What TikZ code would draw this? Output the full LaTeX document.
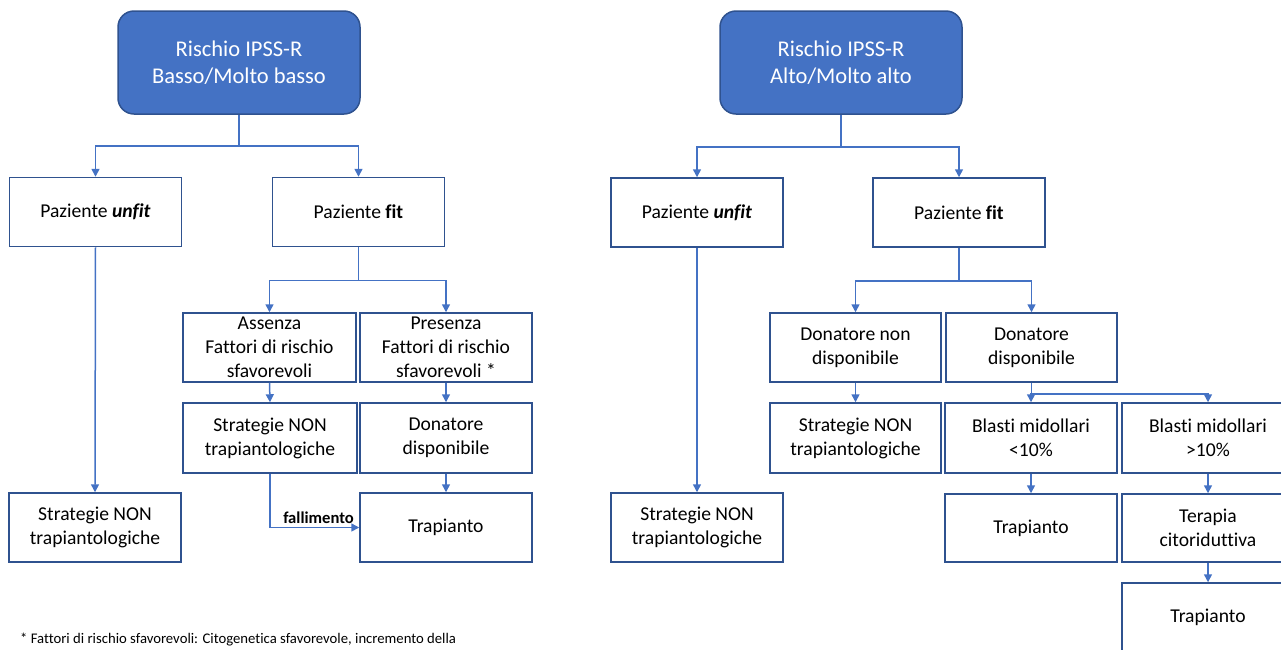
\documentclass[tikz,border=0pt]{standalone}
\usepackage{fontspec}
\setmainfont[Ligatures=NoCommon]{Carlito}
\usetikzlibrary{arrows.meta}
\definecolor{linkblue}{HTML}{4472C4}
\definecolor{edgeblue}{HTML}{2F528F}
\begin{document}
\begin{tikzpicture}[x=1pt,y=-1pt,
  box/.style={draw=edgeblue, line width=1.5pt, fill=white, align=center,
    inner sep=0pt, font=\fontsize{19.6}{24}\selectfont, text=black},
  headbox/.style={draw=edgeblue, line width=1.5pt, fill=linkblue, rounded corners=16pt,
    align=center, inner sep=0pt, font=\fontsize{22.5}{27}\selectfont, text=white,
    minimum width=242pt, minimum height=103pt},
  wbox/.style={box, minimum width=172pt, minimum height=69pt},
  conn/.style={draw=linkblue, line width=1.5pt},
  arr/.style={conn, -{Triangle[length=8pt,width=8pt]}}]
\useasboundingbox (0,0) rectangle (1281,649);
\clip (0,0) rectangle (1281,649);

% ---------- left tree: low / very low risk ----------
\node[headbox] (ltop) at (239,62.5) {Rischio IPSS-R\\Basso/Molto basso};
\node[wbox] (lunfit) at (95.5,212) {Paziente \textbf{\textit{unfit}}};
\node[wbox] (lfit) at (358.5,212) {Paziente \textbf{fit}};
\node[wbox] (lstrat) at (95,527.5) {Strategie NON\\trapiantologiche};
\node[wbox, minimum width=173pt] (lass) at (269.5,347.5) {Assenza\\Fattori di rischio\\sfavorevoli};
\node[wbox] (lpres) at (446,347.5) {Presenza\\Fattori di rischio\\sfavorevoli *};
\node[wbox, minimum width=174pt, minimum height=70pt] (lstrat2) at (270,438) {Strategie NON\\trapiantologiche};
\node[wbox, minimum height=70pt] (ldon) at (446,438) {Donatore\\disponibile};
\node[wbox] (ltrap) at (446,527.5) {Trapianto};

\path (ltop.south) ++(0,31) coordinate (lj1);
\draw[arr] (ltop.south) -- (lj1) -| (lunfit.north);
\draw[arr] (lj1) -| (lfit.north);
\draw[arr] (lunfit.south) -- (lstrat.north);
\path (lfit.south) ++(0,33) coordinate (lj2);
\draw[arr] (lfit.south) -- (lj2) -| (lass.north);
\draw[arr] (lj2) -| (lpres.north);
\draw[arr] (lass.south) -- (lstrat2.north);
\draw[arr] (lpres.south) -- (ldon.north);
\draw[arr] (ldon.south) -- (ltrap.north);
\draw[arr] (lstrat2.south) |- (ltrap.west);
\node[anchor=base east, inner sep=0pt, font=\fontsize{16.6}{20}\selectfont\bfseries]
  (lfail) at (354,523) {fallimento};

% ---------- right tree: high / very high risk ----------
\node[headbox] (rtop) at (841,62.5) {Rischio IPSS-R\\Alto/Molto alto};
\node[wbox] (runfit) at (697,212.5) {Paziente \textbf{\textit{unfit}}};
\node[wbox] (rfit) at (959,212.5) {Paziente \textbf{fit}};
\node[wbox] (rstrat) at (697,527.5) {Strategie NON\\trapiantologiche};
\node[wbox, minimum width=171pt] (rdonnon) at (855.5,347.5) {Donatore non\\disponibile};
\node[wbox, minimum width=171pt] (rdon) at (1031.5,347.5) {Donatore\\disponibile};
\node[wbox, minimum width=171pt, minimum height=70pt] (rstrat2) at (855.5,438) {Strategie NON\\trapiantologiche};
\node[wbox, minimum height=70pt] (rblow) at (1031,438) {Blasti midollari\\<10\%};
\node[wbox, minimum height=70pt] (rbhigh) at (1208,438) {Blasti midollari\\>10\%};
\node[wbox, minimum height=68pt] (rtrap) at (1031,528) {Trapianto};
\node[wbox, minimum height=68pt] (rcito) at (1208,528) {Terapia\\citoriduttiva};
\node[wbox] (rtrap2) at (1208,617.5) {Trapianto};

\path (rtop.south) ++(0,32) coordinate (rj1);
\draw[arr] (rtop.south) -- (rj1) -| (runfit.north);
\draw[arr] (rj1) -| (rfit.north);
\draw[arr] (runfit.south) -- (rstrat.north);
\path (rfit.south) ++(0,33) coordinate (rj2);
\draw[arr] (rfit.south) -- (rj2) -| (rdonnon.north);
\draw[arr] (rj2) -| (rdon.north);
\draw[arr] (rdonnon.south) -- (rstrat2.north);
\path (rdon.south) ++(0,11) coordinate (rj3);
\draw[arr] (rdon.south) -- (rj3) -| (rblow.north);
\draw[arr] (rj3) -| (rbhigh.north);
\draw[arr] (rblow.south) -- (rtrap.north);
\draw[arr] (rbhigh.south) -- (rcito.north);
\draw[arr] (rcito.south) -- (rtrap2.north);

% ---------- footnote ----------
\node[anchor=base west, inner sep=0pt, font=\fontsize{14.7}{18}\selectfont]
  (note) at (20,643) {* Fattori di rischio sfavorevoli: Citogenetica sfavorevole, incremento della};
\end{tikzpicture}
\end{document}
